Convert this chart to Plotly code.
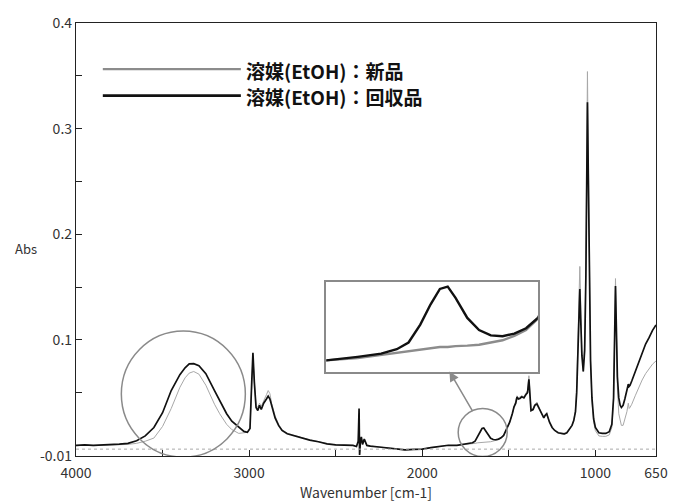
import plotly.graph_objects as go

# ---------------- data ----------------
wavenumber = [
    4000, 3950, 3900, 3850, 3800, 3750, 3700, 3650, 3600, 3550,
    3500, 3450, 3400, 3370, 3346, 3320, 3290, 3250, 3200, 3170,
    3130, 3100, 3060, 3030, 3010, 2995, 2985, 2978, 2970, 2960,
    2950, 2940, 2930, 2916, 2900, 2890, 2880, 2870, 2850, 2830,
    2810, 2780, 2740, 2700, 2650, 2600, 2550, 2500, 2450, 2400,
    2380, 2370, 2365, 2362, 2358, 2352, 2345, 2335, 2320, 2300,
    2250, 2200, 2150, 2100, 2050, 2000, 1950, 1900, 1850, 1800,
    1760, 1730, 1710, 1695, 1680, 1667, 1655, 1645, 1635, 1620,
    1605, 1590, 1575, 1560, 1545, 1530, 1510, 1495, 1480, 1470,
    1460, 1453, 1445, 1436, 1425, 1413, 1402, 1392, 1384, 1378,
    1372, 1360, 1350, 1338, 1328, 1320, 1310, 1298, 1290, 1281,
    1275, 1265, 1250, 1235, 1215, 1195, 1180, 1165, 1150, 1135,
    1125, 1115, 1108, 1100, 1095, 1090, 1085, 1078, 1070, 1062,
    1055, 1050, 1046, 1042, 1036, 1028, 1020, 1010, 1000, 980,
    960, 940, 920, 905, 895, 888, 884, 880, 873, 865,
    857, 850, 840, 830, 818, 810, 805, 800, 790, 770,
    750, 730, 710, 690, 670, 650,
]

abs_recovered = [
    0.000, 0.0005, 0.000, 0.0003, 0.0008, 0.0012, 0.002, 0.0045, 0.009, 0.017,
    0.031, 0.052, 0.067, 0.0735, 0.0772, 0.0775, 0.0755, 0.068, 0.052, 0.042,
    0.030, 0.023, 0.017, 0.0133, 0.0125, 0.016, 0.060, 0.0877, 0.060, 0.036,
    0.033, 0.038, 0.034, 0.040, 0.044, 0.0467, 0.044, 0.037, 0.026, 0.019,
    0.0142, 0.011, 0.0092, 0.0075, 0.005, 0.0035, 0.0015, 0.0005, 0.000, 0.000,
    -0.001, 0.004, 0.035, -0.009, 0.002, 0.008, 0.001, 0.006, 0.000, -0.0007,
    -0.0015, -0.0025, -0.0035, -0.0042, -0.0038, -0.0035, -0.002, -0.0008, 0.0002, 0.000,
    0.0008, 0.0015, 0.0025, 0.004, 0.008, 0.0125, 0.0160, 0.0165, 0.014, 0.0095,
    0.0068, 0.0056, 0.0054, 0.0060, 0.0072, 0.0095, 0.016, 0.022, 0.030, 0.0365,
    0.040, 0.0458, 0.044, 0.0445, 0.046, 0.045, 0.048, 0.050, 0.0625, 0.045,
    0.033, 0.034, 0.038, 0.0393, 0.036, 0.033, 0.029, 0.026, 0.0285, 0.030,
    0.027, 0.022, 0.017, 0.0142, 0.012, 0.0112, 0.011, 0.012, 0.0155, 0.019,
    0.0235, 0.032, 0.050, 0.090, 0.125, 0.148, 0.120, 0.085, 0.070, 0.090,
    0.160, 0.270, 0.325, 0.270, 0.160, 0.080, 0.045, 0.025, 0.017, 0.012,
    0.0114, 0.0114, 0.013, 0.020, 0.045, 0.110, 0.151, 0.120, 0.065, 0.045,
    0.038, 0.036, 0.038, 0.044, 0.052, 0.058, 0.056, 0.057, 0.061, 0.070,
    0.079, 0.088, 0.096, 0.102, 0.109, 0.114,
]

abs_new = [
    -0.0003, 0.0003, -0.0002, 0.000, 0.0004, 0.0006, 0.001, 0.002, 0.004, 0.007,
    0.018, 0.035, 0.055, 0.064, 0.0685, 0.070, 0.0675, 0.057, 0.039, 0.030,
    0.020, 0.015, 0.0114, 0.012, 0.0125, 0.016, 0.058, 0.085, 0.060, 0.038,
    0.036, 0.040, 0.037, 0.043, 0.048, 0.052, 0.049, 0.040, 0.028, 0.020,
    0.015, 0.0115, 0.0095, 0.0078, 0.0052, 0.0036, 0.0016, 0.0006, 0.000, 0.000,
    -0.001, 0.003, 0.030, -0.008, 0.002, 0.007, 0.001, 0.005, 0.000, -0.0007,
    -0.0015, -0.0025, -0.0035, -0.0042, -0.0038, -0.0035, -0.002, -0.0008, 0.000, 0.000,
    0.0005, 0.0012, 0.0017, 0.002, 0.0025, 0.0028, 0.003, 0.003, 0.0032, 0.0033,
    0.0035, 0.004, 0.0045, 0.0055, 0.0068, 0.0093, 0.016, 0.022, 0.030, 0.037,
    0.041, 0.047, 0.045, 0.046, 0.047, 0.046, 0.049, 0.052, 0.066, 0.047,
    0.034, 0.035, 0.039, 0.041, 0.037, 0.034, 0.030, 0.027, 0.029, 0.031,
    0.027, 0.022, 0.017, 0.014, 0.0115, 0.0108, 0.0105, 0.0115, 0.015, 0.019,
    0.024, 0.034, 0.055, 0.100, 0.140, 0.1695, 0.135, 0.090, 0.070, 0.095,
    0.170, 0.290, 0.354, 0.290, 0.170, 0.080, 0.042, 0.022, 0.014, 0.009,
    0.0086, 0.0086, 0.010, 0.017, 0.043, 0.110, 0.158, 0.120, 0.055, 0.030,
    0.022, 0.019, 0.019, 0.024, 0.032, 0.040, 0.035, 0.036, 0.039, 0.047,
    0.055, 0.062, 0.068, 0.073, 0.077, 0.080,
]

series_names = ["溶媒(EtOH)：新品", "溶媒(EtOH)：回収品"]
x_tickvals = [4000, 3000, 2000, 1000, 650]
x_ticktext = ["4000", "3000", "2000", "1000", "650"]
y_tickvals = [-0.01, 0.1, 0.2, 0.3, 0.4]
y_ticktext = ["-0.01", "0.1", "0.2", "0.3", "0.4"]
baseline_value = -0.0035
inset_x_range = [1800, 1530]
inset_y_range = [-0.0025, 0.0175]

# ---------------- layout geometry ----------------
W, H = 680, 504
L, R, T, B = 76, 20, 22, 41
PW, PH = W - L - R, H - T - B

def px_x(x):
    return (x - L) / PW

def px_y(y):
    return (H - B - y) / PH

FONT = "Noto Sans CJK JP, Noto Sans, sans-serif"
BLACK = "#111111"
FRAME = "#8a8a8a"

fig = go.Figure()

# main spectra
fig.add_trace(go.Scatter(x=wavenumber, y=abs_new, mode="lines",
                         line=dict(color="#a8a8a8", width=1), name=series_names[0],
                         showlegend=False))
fig.add_trace(go.Scatter(x=wavenumber, y=abs_recovered, mode="lines",
                         line=dict(color=BLACK, width=1.7), name=series_names[1],
                         showlegend=False))

# inset (zoom of the ~1650 cm-1 band)
fig.add_trace(go.Scatter(x=wavenumber, y=abs_new, mode="lines", xaxis="x2", yaxis="y2",
                         line=dict(color="#8c8c8c", width=2.4), showlegend=False))
fig.add_trace(go.Scatter(x=wavenumber, y=abs_recovered, mode="lines", xaxis="x2", yaxis="y2",
                         line=dict(color=BLACK, width=2.4), showlegend=False))

shapes = []
# dotted baseline
shapes.append(dict(type="line", xref="paper", yref="y", x0=0, x1=1,
                   y0=baseline_value, y1=baseline_value,
                   line=dict(color="#aaaaaa", width=1, dash="dot")))
# big circle around OH band
shapes.append(dict(type="circle", xref="x", yref="y", xsizemode="pixel", ysizemode="pixel",
                   xanchor=3380, yanchor=0.0486, x0=-62, x1=62, y0=-63, y1=63,
                   line=dict(color=FRAME, width=1.5)))
# small circle around 1650 band
shapes.append(dict(type="circle", xref="x", yref="y", xsizemode="pixel", ysizemode="pixel",
                   xanchor=1651, yanchor=0.0123, x0=-24.5, x1=24.5, y0=-24, y1=24,
                   line=dict(color=FRAME, width=1.5)))
# legend lines
shapes.append(dict(type="line", xref="paper", yref="paper",
                   x0=px_x(103), x1=px_x(242), y0=px_y(69), y1=px_y(69),
                   line=dict(color="#8c8c8c", width=2.2)))
shapes.append(dict(type="line", xref="paper", yref="paper",
                   x0=px_x(103), x1=px_x(242), y0=px_y(96), y1=px_y(96),
                   line=dict(color=BLACK, width=2.8)))

annotations = []
annotations.append(dict(xref="paper", yref="paper", x=px_x(245), y=px_y(70),
                        text="<b>" + series_names[0] + "</b>", showarrow=False,
                        xanchor="left", yanchor="middle",
                        font=dict(family=FONT, size=19, color="#111111")))
annotations.append(dict(xref="paper", yref="paper", x=px_x(245), y=px_y(97),
                        text="<b>" + series_names[1] + "</b>", showarrow=False,
                        xanchor="left", yanchor="middle",
                        font=dict(family=FONT, size=19, color="#111111")))
# Abs label
annotations.append(dict(xref="paper", yref="paper", x=px_x(26), y=px_y(252),
                        text="Abs", showarrow=False, xanchor="center", yanchor="middle",
                        font=dict(family=FONT, size=13, color="#333333")))
# arrow from small circle to inset
annotations.append(dict(xref="x", yref="y", x=1843, y=0.070, ax=24, ay=41,
                        axref="pixel", ayref="pixel", text="", showarrow=True,
                        arrowhead=2, arrowsize=1.3, arrowwidth=1.5, arrowcolor=FRAME))

fig.update_layout(
    width=W, height=H, autosize=False,
    margin=dict(l=L, r=R, t=T, b=B, pad=0),
    paper_bgcolor="white", plot_bgcolor="white",
    font=dict(family=FONT, size=13, color="#333333"),
    showlegend=False,
    shapes=shapes, annotations=annotations,
    xaxis=dict(range=[4000, 650], tickvals=x_tickvals, ticktext=x_ticktext,
               ticks="inside", ticklen=6, tickwidth=1, tickcolor="#222",
               ticklabelstandoff=4,
               minor=dict(tickvals=[3500, 2500, 1500], ticks="inside", ticklen=6,
                          tickcolor="#222", showgrid=False),
               showline=True, linecolor="#222", linewidth=1.3, mirror=True,
               showgrid=False, zeroline=False,
               tickfont=dict(family=FONT, size=14, color="#333"),
               title=dict(text="Wavenumber [cm-1]", standoff=0,
                          font=dict(family=FONT, size=14, color="#333"))),
    yaxis=dict(range=[-0.01, 0.4], tickvals=y_tickvals, ticktext=y_ticktext,
               ticks="inside", ticklen=6, tickwidth=1, tickcolor="#222",
               minor=dict(tickvals=[0.05, 0.15, 0.25, 0.35], ticks="inside", ticklen=6,
                          tickcolor="#222", showgrid=False),
               showline=True, linecolor="#222", linewidth=1.3, mirror=True,
               showgrid=False, zeroline=False,
               tickfont=dict(family=FONT, size=14, color="#333")),
    xaxis2=dict(domain=[px_x(328), px_x(541)], anchor="y2", range=inset_x_range,
                showticklabels=False, ticks="", showgrid=False, zeroline=False,
                showline=True, linecolor=FRAME, linewidth=1.5, mirror=True),
    yaxis2=dict(domain=[px_y(377), px_y(286)], anchor="x2", range=inset_y_range,
                showticklabels=False, ticks="", showgrid=False, zeroline=False,
                showline=True, linecolor=FRAME, linewidth=1.5, mirror=True),
)

fig.write_html("out.html")
